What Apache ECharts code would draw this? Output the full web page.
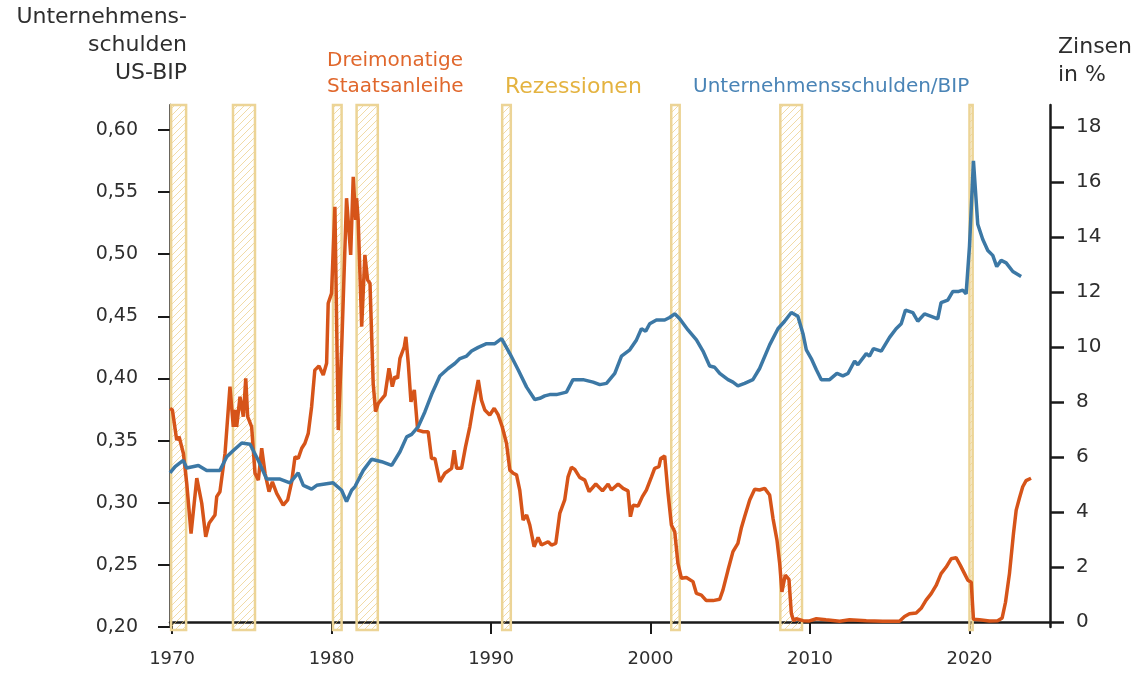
<!DOCTYPE html>
<html>
<head>
<meta charset="utf-8">
<script src="https://cdn.jsdelivr.net/npm/echarts@6/dist/echarts.min.js"></script>
<style>
  html, body { margin: 0; padding: 0; background: #fff; }
  #chart { width: 1146px; height: 676px; }
</style>
</head>
<body>
<div id="chart"></div>
<script>
// Unternehmensschulden / BIP (linke Achse)
var debtYears = [1969.87, 1970.19, 1970.7, 1970.92, 1971.65, 1972.17, 1973.0, 1973.43, 1973.84, 1974.37, 1974.89,
    1975.41, 1975.93, 1976.77, 1977.39, 1977.91, 1978.23, 1978.75, 1979.07, 1980.1, 1980.63, 1980.94, 1981.26,
    1981.47, 1981.99, 1982.51, 1982.83, 1983.14, 1983.77, 1984.29, 1984.71, 1985.02, 1985.43, 1985.85, 1986.27,
    1986.79, 1987.31, 1987.73, 1988.05, 1988.47, 1988.78, 1989.2, 1989.72, 1990.24, 1990.66, 1991.18, 1991.7,
    1992.23, 1992.74, 1993.06, 1993.37, 1993.68, 1994.1, 1994.73, 1995.14, 1995.77, 1996.4, 1996.82, 1997.24,
    1997.76, 1998.18, 1998.7, 1999.12, 1999.43, 1999.7, 1999.95, 2000.37, 2000.89, 2001.2, 2001.52, 2001.83,
    2002.35, 2002.88, 2003.29, 2003.71, 2004.02, 2004.34, 2004.86, 2005.17, 2005.48, 2005.9, 2006.42, 2006.84,
    2007.47, 2007.99, 2008.41, 2008.83, 2009.24, 2009.56, 2009.77, 2010.08, 2010.4, 2010.71, 2011.23, 2011.69,
    2012.06, 2012.38, 2012.8, 2013.0, 2013.53, 2013.73, 2013.98, 2014.47, 2014.99, 2015.4, 2015.72, 2015.99,
    2016.45, 2016.76, 2017.18, 2017.6, 2018.01, 2018.22, 2018.64, 2018.96, 2019.33, 2019.58, 2019.79, 2020.0,
    2020.25, 2020.52, 2020.83, 2021.15, 2021.46, 2021.71, 2021.99, 2022.3, 2022.72, 2023.24];
var debtValues = [0.324, 0.329, 0.334, 0.328, 0.330, 0.326, 0.326, 0.337, 0.342, 0.348, 0.347,
    0.334, 0.319, 0.319, 0.316, 0.324, 0.314, 0.311, 0.314, 0.316, 0.310, 0.301, 0.310,
    0.313, 0.326, 0.335, 0.334, 0.333, 0.330, 0.341, 0.353, 0.355, 0.361, 0.373, 0.387,
    0.402, 0.408, 0.412, 0.416, 0.418, 0.422, 0.425, 0.428, 0.428, 0.432, 0.420, 0.407,
    0.393, 0.383, 0.384, 0.386, 0.387, 0.387, 0.389, 0.399, 0.399, 0.397, 0.395, 0.396,
    0.404, 0.418, 0.423, 0.431, 0.440, 0.438, 0.444, 0.447, 0.447, 0.449, 0.452, 0.448,
    0.439, 0.431, 0.422, 0.410, 0.409, 0.404, 0.399, 0.397, 0.394, 0.396, 0.399, 0.408,
    0.427, 0.440, 0.446, 0.453, 0.450, 0.436, 0.423, 0.416, 0.407, 0.399, 0.399, 0.404,
    0.402, 0.404, 0.414, 0.411, 0.420, 0.418, 0.424, 0.422, 0.433, 0.440, 0.444, 0.455,
    0.453, 0.446, 0.452, 0.450, 0.448, 0.461, 0.463, 0.470, 0.470, 0.471, 0.468, 0.506,
    0.575, 0.524, 0.512, 0.503, 0.499, 0.490, 0.495, 0.493, 0.486, 0.482];

// Dreimonatige Staatsanleihe, Zins in % (rechte Achse)
var rateYears = [1969.87, 1970.02, 1970.29, 1970.44, 1970.71, 1970.92, 1971.19, 1971.55, 1971.86, 1972.11, 1972.32,
    1972.69, 1972.8, 1973.0, 1973.32, 1973.63, 1973.84, 1973.95, 1974.05, 1974.26, 1974.47, 1974.62, 1974.74,
    1974.99, 1975.2, 1975.41, 1975.62, 1975.83, 1976.08, 1976.29, 1976.56, 1976.97, 1977.25, 1977.5, 1977.71,
    1977.91, 1978.13, 1978.33, 1978.54, 1978.75, 1978.95, 1979.21, 1979.48, 1979.69, 1979.79, 1980.0, 1980.21,
    1980.42, 1980.63, 1980.94, 1981.2, 1981.36, 1981.51, 1981.57, 1981.67, 1981.89, 1982.09, 1982.26, 1982.41,
    1982.61, 1982.76, 1982.93, 1983.18, 1983.35, 1983.6, 1983.81, 1983.97, 1984.14, 1984.29, 1984.56, 1984.66,
    1984.81, 1984.98, 1985.19, 1985.4, 1985.75, 1986.06, 1986.27, 1986.48, 1986.79, 1987.11, 1987.53, 1987.69,
    1987.84, 1988.15, 1988.4, 1988.67, 1988.88, 1989.2, 1989.4, 1989.61, 1989.92, 1990.2, 1990.45, 1990.7,
    1990.97, 1991.18, 1991.39, 1991.6, 1991.8, 1992.01, 1992.23, 1992.43, 1992.7, 1992.95, 1993.16, 1993.27,
    1993.58, 1993.79, 1994.06, 1994.31, 1994.62, 1994.83, 1995.04, 1995.25, 1995.56, 1995.88, 1996.15, 1996.57,
    1996.99, 1997.34, 1997.55, 1997.97, 1998.28, 1998.59, 1998.74, 1998.91, 1999.22, 1999.49, 1999.74, 2000.06,
    2000.26, 2000.53, 2000.64, 2000.89, 2001.1, 2001.31, 2001.52, 2001.72, 2001.94, 2002.25, 2002.66, 2002.88,
    2003.19, 2003.5, 2003.92, 2004.34, 2004.54, 2004.86, 2005.17, 2005.48, 2005.69, 2005.9, 2006.22, 2006.53,
    2006.84, 2007.16, 2007.47, 2007.68, 2007.93, 2008.1, 2008.24, 2008.45, 2008.68, 2008.83, 2008.97, 2009.14,
    2009.56, 2009.97, 2010.4, 2011.0, 2011.86, 2012.48, 2013.53, 2014.57, 2015.61, 2015.93, 2016.24, 2016.66,
    2016.97, 2017.28, 2017.6, 2017.91, 2018.22, 2018.54, 2018.85, 2019.16, 2019.42, 2019.69, 2019.9, 2020.11,
    2020.25, 2020.63, 2021.25, 2021.77, 2022.05, 2022.26, 2022.51, 2022.76, 2022.93, 2023.13, 2023.34, 2023.55,
    2023.86];
var rateValues = [7.77, 7.71, 6.62, 6.74, 6.13, 5.04, 3.22, 5.23, 4.32, 3.10, 3.59,
    3.89, 4.56, 4.74, 6.13, 8.56, 7.10, 7.71, 7.10, 8.19, 7.47, 8.86, 7.47,
    7.10, 5.41, 5.16, 6.32, 5.41, 4.74, 5.10, 4.68, 4.25, 4.44, 5.10, 6.01,
    5.95, 6.32, 6.50, 6.86, 7.83, 9.16, 9.31, 8.98, 9.41, 11.59, 11.95, 15.10,
    6.98, 9.89, 15.41, 13.35, 16.19, 14.62, 15.41, 14.62, 10.74, 13.35, 12.44, 12.32,
    8.68, 7.65, 7.95, 8.13, 8.25, 9.23, 8.56, 8.92, 8.86, 9.59, 10.01, 10.37,
    9.41, 8.01, 8.44, 6.98, 6.92, 6.92, 5.95, 5.95, 5.10, 5.41, 5.59, 6.25,
    5.59, 5.59, 6.37, 7.10, 7.83, 8.80, 8.07, 7.71, 7.53, 7.77, 7.53, 7.10,
    6.50, 5.53, 5.41, 5.35, 4.80, 3.71, 3.89, 3.53, 2.74, 3.08, 2.80, 2.74,
    2.92, 2.80, 2.86, 3.95, 4.44, 5.28, 5.63, 5.55, 5.26, 5.16, 4.74, 5.02,
    4.77, 5.02, 4.80, 5.02, 4.86, 4.77, 3.83, 4.25, 4.22, 4.56, 4.80, 5.28,
    5.59, 5.65, 5.95, 6.04, 4.68, 3.53, 3.28, 2.13, 1.59, 1.62, 1.47, 1.04,
    0.98, 0.78, 0.78, 0.83, 1.16, 1.89, 2.56, 2.86, 3.41, 3.83, 4.44, 4.83,
    4.80, 4.86, 4.62, 3.77, 2.98, 2.13, 1.10, 1.71, 1.55, 0.32, 0.05, 0.12,
    0.05, 0.04, 0.12, 0.08, 0.03, 0.08, 0.05, 0.03, 0.03, 0.20, 0.30, 0.33,
    0.50, 0.80, 1.03, 1.33, 1.76, 2.00, 2.30, 2.34, 2.07, 1.76, 1.52, 1.45,
    0.10, 0.08, 0.04, 0.05, 0.15, 0.72, 1.77, 3.22, 4.07, 4.50, 4.92, 5.14,
    5.23];

// Rezessionen (Beginn, Ende)
var recessionStart = [1969.94, 1973.82, 1980.09, 1981.57, 1990.7, 2001.3, 2008.14, 2020.0];
var recessionEnd   = [1970.88, 1975.2, 1980.63, 1982.9, 1991.24, 2001.83, 2009.5, 2020.2];

var yearTicks = [1970, 1980, 1990, 2000, 2010, 2020];
var debtTicks = [0.20, 0.25, 0.30, 0.35, 0.40, 0.45, 0.50, 0.55, 0.60];
var rateTicks = [0, 2, 4, 6, 8, 10, 12, 14, 16, 18];

var FONT = '"DejaVu Sans", sans-serif';
var INK = '#2e2e2e';
var ORANGE = '#d65419';
var BLUE = '#3c78a5';

function makeHatch() {
    var c = document.createElement('canvas');
    c.width = 7; c.height = 7;
    var ctx = c.getContext('2d');
    ctx.strokeStyle = 'rgba(233,200,120,0.65)';
    ctx.lineWidth = 1;
    ctx.beginPath();
    ctx.moveTo(0, 7); ctx.lineTo(7, 0);
    ctx.moveTo(-1, 1); ctx.lineTo(1, -1);
    ctx.moveTo(6, 8); ctx.lineTo(8, 6);
    ctx.stroke();
    return c;
}
var hatch = makeHatch();

var debtData = debtYears.map(function (y, i) { return [y, debtValues[i]]; });
var rateData = rateYears.map(function (y, i) { return [y, rateValues[i]]; });
var bandData = recessionStart.map(function (s, i) { return [s, recessionEnd[i]]; });

var myChart = echarts.init(document.getElementById('chart'));

myChart.setOption({
    animation: false,
    textStyle: { fontFamily: FONT },
    grid: { left: 170, right: 96, top: 105, bottom: 49 },
    xAxis: {
        type: 'value',
        min: 1969.87,
        max: 2025.05,
        axisLine: { show: true, lineStyle: { color: '#1a1a1a', width: 2.5 } },
        axisTick: { show: true, length: 12, customValues: yearTicks, lineStyle: { color: '#1a1a1a', width: 2 } },
        axisLabel: {
            customValues: yearTicks, margin: 23, fontSize: 18, color: INK, fontFamily: FONT,
            formatter: function (v) { return String(Math.round(v)); }
        },
        splitLine: { show: false }
    },
    yAxis: [
        {
            type: 'value',
            min: 0.2,
            max: 0.62,
            position: 'left',
            axisLine: { show: true, lineStyle: { color: '#1a1a1a', width: 2.5 } },
            axisTick: { show: true, length: 12, customValues: debtTicks, lineStyle: { color: '#1a1a1a', width: 2 } },
            axisLabel: {
                customValues: debtTicks, margin: 32, fontSize: 19, color: INK, fontFamily: FONT,
                formatter: function (v) { return v.toFixed(2).replace('.', ','); }
            },
            splitLine: { show: false }
        },
        {
            type: 'value',
            min: -0.18,
            max: 18.8,
            position: 'right',
            axisLine: { show: true, lineStyle: { color: '#1a1a1a', width: 2.5 } },
            axisTick: { show: true, length: 14, customValues: rateTicks, lineStyle: { color: '#1a1a1a', width: 2.5 } },
            axisLabel: {
                customValues: rateTicks, margin: 26, fontSize: 20, color: INK, fontFamily: FONT,
                formatter: function (v) { return String(Math.round(v)); }
            },
            splitLine: { show: false }
        }
    ],
    graphic: [
        { type: 'text', x: 187, y: 3, style: { text: 'Unternehmens-\nschulden\nUS-BIP', font: '22px ' + FONT, fill: INK, align: 'right', verticalAlign: 'top', lineHeight: 28 } },
        { type: 'text', x: 1058, y: 33, style: { text: 'Zinsen\nin %', font: '22px ' + FONT, fill: INK, align: 'left', verticalAlign: 'top', lineHeight: 28 } },
        { type: 'text', x: 327, y: 48, style: { text: 'Dreimonatige\nStaatsanleihe', font: '20px ' + FONT, fill: '#e0672c', align: 'left', verticalAlign: 'top', lineHeight: 26 } },
        { type: 'text', x: 505, y: 87, style: { text: 'Rezessionen', font: '22px ' + FONT, fill: '#e4b340', align: 'left', verticalAlign: 'middle' } },
        { type: 'text', x: 693, y: 87, style: { text: 'Unternehmensschulden/BIP', font: '20px ' + FONT, fill: '#4a84b6', align: 'left', verticalAlign: 'middle' } }
    ],
    series: [
        {
            name: 'Rezessionen',
            type: 'custom',
            xAxisIndex: 0,
            yAxisIndex: 0,
            z: 1,
            silent: true,
            renderItem: function (params, api) {
                var x0 = api.coord([api.value(0), 0.2])[0];
                var x1 = api.coord([api.value(1), 0.2])[0];
                var cs = params.coordSys;
                return {
                    type: 'rect',
                    shape: { x: x0, y: cs.y, width: Math.max(x1 - x0, 1), height: cs.height + 3 },
                    style: {
                        fill: { image: hatch, repeat: 'repeat' },
                        stroke: '#ecd496',
                        lineWidth: 2.5
                    }
                };
            },
            encode: { x: [0, 1] },
            data: bandData
        },
        {
            name: 'Dreimonatige Staatsanleihe',
            type: 'line',
            yAxisIndex: 1,
            z: 3,
            showSymbol: false,
            lineStyle: { color: ORANGE, width: 3.5 },
            data: rateData
        },
        {
            name: 'Unternehmensschulden/BIP',
            type: 'line',
            yAxisIndex: 0,
            z: 4,
            showSymbol: false,
            lineStyle: { color: BLUE, width: 3.5 },
            data: debtData
        }
    ]
});
</script>
</body>
</html>
